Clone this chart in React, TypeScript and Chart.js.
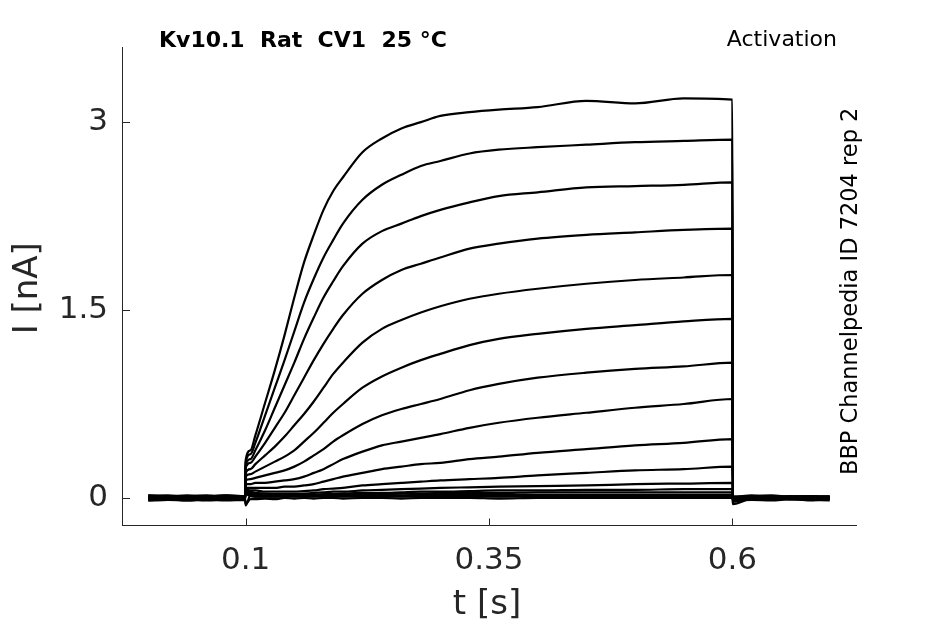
import React, { useEffect, useRef } from "react";
import { Chart, registerables, type Plugin } from "chart.js";

Chart.register(...registerables);

// sample times (s): holding, step onset, activation, step end, tail
const timeS = [
  0, 0.02, 0.04, 0.06, 0.08, 0.0995,
  0.1, 0.105, 0.11, 0.12, 0.13, 0.14, 0.15, 0.16, 0.17, 0.18, 0.19, 0.2,
  0.22, 0.24, 0.26, 0.28, 0.3, 0.33, 0.36, 0.4, 0.45, 0.5, 0.55, 0.6,
  0.6005, 0.62, 0.64, 0.66, 0.68, 0.7,
];

// current (nA) per sweep, largest first
const sweep01 = [0.01, 0, 0.015, -0.005, 0.01, 0, 0.3, 0.38, 0.5, 0.76, 1.02, 1.3, 1.6, 1.88, 2.1, 2.3, 2.45, 2.56, 2.76, 2.87, 2.95, 3.0, 3.05, 3.08, 3.1, 3.12, 3.17, 3.15, 3.19, 3.18, -0.03, 0, 0.01, -0.01, 0.005, 0];
const sweep02 = [-0.01, 0.005, 0, 0.01, -0.01, 0.005, 0.28, 0.35, 0.44, 0.66, 0.88, 1.1, 1.33, 1.56, 1.75, 1.92, 2.06, 2.19, 2.38, 2.5, 2.58, 2.65, 2.69, 2.75, 2.78, 2.8, 2.82, 2.84, 2.85, 2.86, -0.02, 0.01, -0.005, 0, 0.01, -0.01];
const sweep03 = [0.02, 0.01, 0.015, 0.02, 0.005, 0.01, 0.26, 0.31, 0.38, 0.54, 0.72, 0.9, 1.08, 1.27, 1.44, 1.6, 1.73, 1.85, 2.03, 2.13, 2.19, 2.25, 2.3, 2.36, 2.41, 2.44, 2.48, 2.49, 2.5, 2.52, -0.02, 0.005, 0, 0.01, -0.005, 0];
const sweep04 = [0, -0.01, 0.005, 0, 0.01, -0.005, 0.24, 0.28, 0.33, 0.44, 0.56, 0.68, 0.82, 0.96, 1.1, 1.23, 1.35, 1.46, 1.63, 1.74, 1.82, 1.87, 1.92, 1.99, 2.03, 2.07, 2.1, 2.12, 2.14, 2.15, -0.015, 0, 0.01, -0.01, 0, 0.005];
const sweep05 = [-0.02, -0.015, -0.01, -0.02, -0.01, -0.015, 0.2, 0.23, 0.27, 0.34, 0.41, 0.49, 0.58, 0.67, 0.77, 0.88, 0.99, 1.08, 1.24, 1.35, 1.42, 1.48, 1.53, 1.59, 1.63, 1.67, 1.71, 1.74, 1.76, 1.78, -0.02, -0.01, 0, -0.005, -0.01, 0];
const sweep06 = [0.015, 0.005, 0.01, 0, 0.015, 0.01, 0.17, 0.19, 0.21, 0.25, 0.29, 0.33, 0.38, 0.45, 0.52, 0.6, 0.68, 0.75, 0.88, 0.97, 1.04, 1.1, 1.15, 1.22, 1.27, 1.31, 1.35, 1.38, 1.41, 1.43, 0, 0.01, 0.005, 0, 0.01, 0.005];
const sweep07 = [-0.005, 0, -0.01, 0.005, -0.005, 0, 0.14, 0.15, 0.16, 0.18, 0.2, 0.22, 0.25, 0.29, 0.34, 0.39, 0.45, 0.5, 0.59, 0.66, 0.71, 0.75, 0.79, 0.86, 0.91, 0.96, 1.0, 1.03, 1.05, 1.08, -0.01, 0, -0.005, 0.005, 0, -0.01];
const sweep08 = [0.005, 0.01, 0, 0.01, 0.005, 0, 0.11, 0.11, 0.12, 0.12, 0.13, 0.14, 0.15, 0.17, 0.2, 0.23, 0.27, 0.31, 0.37, 0.42, 0.45, 0.48, 0.51, 0.56, 0.6, 0.64, 0.68, 0.72, 0.75, 0.79, 0, 0.005, 0.01, 0, 0.005, 0];
const sweep09 = [-0.015, -0.01, -0.02, -0.01, -0.015, -0.01, 0.08, 0.08, 0.08, 0.08, 0.08, 0.09, 0.09, 0.1, 0.11, 0.13, 0.15, 0.17, 0.2, 0.23, 0.25, 0.27, 0.28, 0.31, 0.33, 0.36, 0.39, 0.42, 0.44, 0.47, -0.01, -0.015, -0.005, -0.01, -0.02, -0.01];
const sweep10 = [0.02, 0.015, 0.02, 0.01, 0.02, 0.015, 0.07, 0.06, 0.06, 0.05, 0.05, 0.05, 0.05, 0.055, 0.06, 0.07, 0.075, 0.08, 0.1, 0.11, 0.12, 0.13, 0.14, 0.15, 0.16, 0.18, 0.2, 0.22, 0.23, 0.25, 0.01, 0.015, 0.02, 0.01, 0.015, 0.01];
const sweep11 = [0, 0.005, -0.005, 0, 0.005, 0, 0.06, 0.05, 0.04, 0.035, 0.03, 0.03, 0.03, 0.035, 0.04, 0.045, 0.05, 0.05, 0.06, 0.065, 0.07, 0.075, 0.08, 0.085, 0.09, 0.095, 0.1, 0.11, 0.115, 0.12, -0.005, 0, 0.005, -0.005, 0, 0.005];
const sweep12 = [-0.01, -0.005, -0.01, -0.015, -0.005, -0.01, 0.05, 0.04, 0.03, 0.02, 0.02, 0.02, 0.02, 0.025, 0.025, 0.03, 0.03, 0.035, 0.04, 0.04, 0.045, 0.05, 0.05, 0.055, 0.06, 0.06, 0.065, 0.065, 0.07, 0.07, -0.01, -0.015, -0.005, -0.01, -0.01, -0.005];
const sweep13 = [0.01, 0.01, 0.005, 0.015, 0.01, 0.005, 0.04, 0.03, 0.025, 0.02, 0.02, 0.02, 0.02, 0.02, 0.025, 0.025, 0.025, 0.03, 0.03, 0.03, 0.035, 0.035, 0.04, 0.04, 0.04, 0.045, 0.045, 0.045, 0.045, 0.045, 0.005, 0.01, 0.005, 0.01, 0.015, 0.005];
const sweep14 = [-0.005, 0, 0, -0.005, 0, -0.005, -0.06, 0.02, 0.01, 0.01, 0.01, 0.015, 0.015, 0.015, 0.015, 0.02, 0.02, 0.02, 0.02, 0.02, 0.02, 0.025, 0.025, 0.025, 0.025, 0.025, 0.025, 0.025, 0.025, 0.025, -0.05, -0.005, 0, -0.005, 0, -0.005];
const sweep15 = [0.015, 0.02, 0.01, 0.015, 0.02, 0.015, 0.03, 0.015, 0.01, 0.01, 0.01, 0.01, 0.01, 0.01, 0.01, 0.01, 0.01, 0.01, 0.01, 0.01, 0.01, 0.01, 0.01, 0.01, 0.01, 0.01, 0.01, 0.015, 0.01, 0.01, 0.01, 0.02, 0.01, 0.015, 0.01, 0.015];
const sweep16 = [-0.02, -0.015, -0.02, -0.015, -0.02, -0.015, -0.05, -0.01, -0.01, -0.005, -0.01, 0, -0.005, 0, -0.005, 0, 0, -0.005, 0, 0, -0.005, 0, 0, 0, -0.005, 0, 0, 0, 0, 0, -0.02, -0.015, -0.02, -0.01, -0.015, -0.02];

const sweeps = [
  sweep01, sweep02, sweep03, sweep04, sweep05, sweep06, sweep07, sweep08,
  sweep09, sweep10, sweep11, sweep12, sweep13, sweep14, sweep15, sweep16,
];

const xTicks = [0.1, 0.35, 0.6];
const xTickLabels = ["0.1", "0.35", "0.6"];
const yTicks = [0, 1.5, 3];
const yTickLabels = ["0", "1.5", "3"];

const titleText = "Kv10.1  Rat  CV1  25 °C";
const protocolText = "Activation";
const sourceText = "BBP Channelpedia ID 7204 rep 2";
const xLabel = "t [s]";
const yLabel = "I [nA]";

const FONT = "'DejaVu Sans', sans-serif";
const AXIS_COLOR = "#262626";

// inward tick marks plus the free-standing texts
const decorations: Plugin = {
  id: "decorations",
  afterDraw(chart) {
    const { ctx, chartArea, scales } = chart;
    ctx.save();
    ctx.strokeStyle = AXIS_COLOR;
    ctx.lineWidth = 1;
    ctx.beginPath();
    yTicks.forEach((v) => {
      const y = Math.round(scales.y.getPixelForValue(v)) + 0.5;
      ctx.moveTo(chartArea.left, y);
      ctx.lineTo(chartArea.left + 8, y);
    });
    xTicks.forEach((v) => {
      const x = Math.round(scales.x.getPixelForValue(v)) + 0.5;
      ctx.moveTo(x, chartArea.bottom);
      ctx.lineTo(x, chartArea.bottom - 7);
    });
    ctx.stroke();

    ctx.fillStyle = AXIS_COLOR;
    ctx.textBaseline = "alphabetic";
    ctx.font = `34px ${FONT}`;
    ctx.textAlign = "center";
    ctx.fillText(xLabel, (chartArea.left + chartArea.right) / 2 - 2, 614);
    ctx.save();
    ctx.translate(37, (chartArea.top + chartArea.bottom) / 2 + 2);
    ctx.rotate(-Math.PI / 2);
    ctx.fillText(yLabel, 0, 0);
    ctx.restore();

    ctx.fillStyle = "#000";
    ctx.font = `bold 22px ${FONT}`;
    ctx.textAlign = "left";
    ctx.fillText(titleText, chartArea.left + 37, 47);
    ctx.font = `22px ${FONT}`;
    ctx.textAlign = "right";
    ctx.fillText(protocolText, chartArea.right - 19, 46);
    ctx.save();
    ctx.translate(857, 475);
    ctx.rotate(-Math.PI / 2);
    ctx.font = `22.5px ${FONT}`;
    ctx.textAlign = "left";
    ctx.fillText(sourceText, 0, 0);
    ctx.restore();
    ctx.restore();
  },
};

export default function App() {
  const canvasRef = useRef<HTMLCanvasElement>(null);

  useEffect(() => {
    document.body.style.margin = "0";
    if (!canvasRef.current) return;

    const datasets = sweeps.map((values, i) => ({
      label: `sweep ${i + 1}`,
      data: values.map((y, j) => ({ x: timeS[j], y })),
      borderColor: "#000",
      borderWidth: 2.2,
      pointRadius: 0,
      cubicInterpolationMode: "monotone" as const,
      fill: false,
    }));

    const chart = new Chart(canvasRef.current, {
      type: "line",
      data: { datasets },
      options: {
        animation: false,
        responsive: true,
        maintainAspectRatio: false,
        layout: { padding: { top: 47, right: 89, left: 0, bottom: 0 } },
        plugins: {
          legend: { display: false },
          tooltip: { enabled: false },
        },
        scales: {
          x: {
            type: "linear",
            min: -0.027,
            max: 0.727,
            afterBuildTicks: (scale) => {
              scale.ticks = xTicks.map((value) => ({ value }));
            },
            afterFit: (scale) => {
              scale.height = 98.5;
            },
            ticks: {
              callback: (value) => xTickLabels[xTicks.indexOf(Number(value))],
              font: { family: FONT, size: 31 },
              color: AXIS_COLOR,
              padding: 17,
              maxRotation: 0,
            },
            grid: { display: true, drawOnChartArea: false, drawTicks: false },
            border: { display: true, color: AXIS_COLOR, width: 1 },
          },
          y: {
            type: "linear",
            min: -0.22,
            max: 3.6,
            afterBuildTicks: (scale) => {
              scale.ticks = yTicks.map((value) => ({ value }));
            },
            afterFit: (scale) => {
              scale.width = 122;
            },
            ticks: {
              callback: (value) => yTickLabels[yTicks.indexOf(Number(value))],
              font: { family: FONT, size: 31 },
              color: AXIS_COLOR,
              padding: 14,
            },
            grid: { display: true, drawOnChartArea: false, drawTicks: false },
            border: { display: true, color: AXIS_COLOR, width: 1 },
          },
        },
      },
      plugins: [decorations],
    });

    return () => {
      chart.destroy();
    };
  }, []);

  return (
    <div style={{ width: 945, height: 624, background: "#fff" }}>
      <canvas ref={canvasRef} />
    </div>
  );
}
